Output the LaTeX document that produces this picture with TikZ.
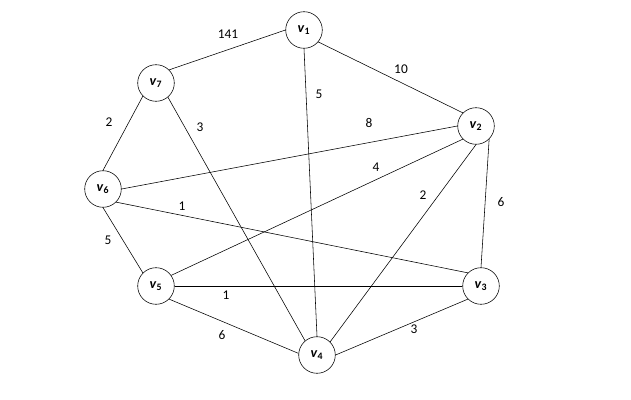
\documentclass[tikz,border=0pt]{standalone}
\usepackage{fontspec}
\setmainfont{Carlito}
\newcommand{\vx}[1]{\textbf{\textit{v}}\textsubscript{\textbf{#1}}}
\begin{document}
\begin{tikzpicture}[x=0.025cm,y=-0.025cm,
    vertex/.style={draw,circle,minimum size=0.915cm,inner sep=0pt,font=\fontsize{10}{12}\selectfont},
    wt/.style={font=\fontsize{9.5}{11}\selectfont}]
                \useasboundingbox (0,0) rectangle (631,400);
                \node[vertex] (v1) at (304,30) {\vx{1}};
                \node[vertex] (v2) at (476,126) {\vx{2}};
                \node[vertex] (v3) at (481,286) {\vx{3}};
                \node[vertex] (v4) at (317,355) {\vx{4}};
                \node[vertex] (v5) at (156,286) {\vx{5}};
                \node[vertex] (v6) at (103,189) {\vx{6}};
                \node[vertex] (v7) at (156,83) {\vx{7}};
                \draw[thin] (v7.45) -- (v1.west);
                \draw[thin] (v1.-40) -- (v2.135);
                \draw[thin] (v1.south) -- (v4.north);
                \draw[thin] (v7.225) -- (v6.north);
                \draw[thin] (v7.-50) -- (v4.130);
                \draw[thin] (v6.east) -- (v2.west);
                \draw[thin] (v5.35) -- (v2.225);
                \draw[thin] (v4.45) -- (v2.south);
                \draw[thin] (v3.north) -- (v2.-45);
                \draw[thin] (v6.-45) -- (v3.135);
                \draw[thin] (v6.south) -- (v5.135);
                \draw[thin] (v5.east) -- (v3.west);
                \draw[thin] (v5.-45) -- (v4.175);
                \draw[thin] (v4.east) -- (v3.225);
                % weights
                \node[wt] (w71) at (228,34) {141};
                \node[wt] (w14) at (319,94) {5};
                \node[wt] (w76) at (109,122) {2};
                \node[wt] (w74) at (200,127) {3};
                \node[wt] (w12) at (401,69) {10};
                \node[wt] (w62) at (369,123) {8};
                \node[wt] (w52) at (376,167) {4};
                \node[wt] (w42) at (423,195) {2};
                \node[wt] (w32) at (501,202) {6};
                \node[wt] (w63) at (182,206) {1};
                \node[wt] (w65) at (108,240) {5};
                \node[wt] (w53) at (226,295) {1};
                \node[wt] (w54) at (222,335) {6};
                \node[wt] (w43) at (414,329) {3};
            \end{tikzpicture}
\end{document}
